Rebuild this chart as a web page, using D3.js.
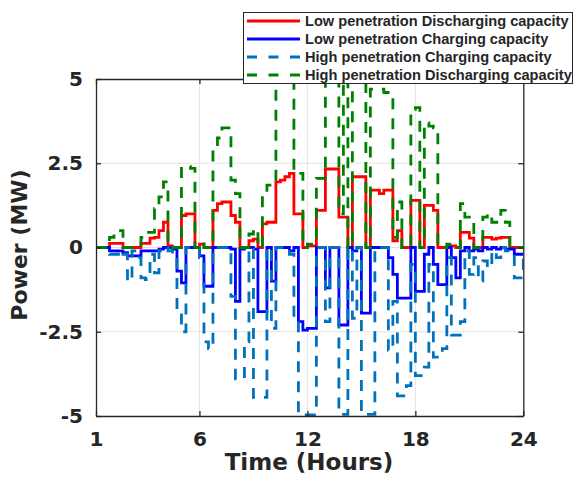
<!DOCTYPE html>
<html>
<head>
<meta charset="utf-8">
<script src="https://cdn.jsdelivr.net/npm/d3@7/dist/d3.min.js"></script>
<style>
  html, body { margin: 0; padding: 0; background: #ffffff; }
  svg { display: block; }
</style>
</head>
<body>
<svg id="chart" width="574" height="477"></svg>
<script>
// ---- data: 96 quarter-hour intervals ----
const intervals = d3.range(1, 97);

const lowDischarging = [
  0, 0, 0, 0.12, 0.12, 0.12, 0, 0, 0, 0,
  0.12, 0.12, 0.28, 0.3, 0.5, 0.75, 0.05, 0, 0, 0.95,
  1.0, 1.0, 0, 0.1, 0, 0, 1.1, 1.3, 1.35, 1.35,
  0.95, 0.75, 0, 0, 0.2, 0.25, 0, 0.7, 0.75, 0.75,
  1.95, 2.0, 2.1, 2.2, 1.0, 1.0, 0, 0.05, 0.05, 1.1,
  1.1, 2.33, 2.33, 2.33, 0.9, 0.9, 0, 2.1, 2.1, 2.1,
  0, 1.7, 1.7, 1.6, 1.7, 1.7, 0.2, 0.5, 0, 0,
  1.4, 1.4, 0, 1.25, 1.25, 1.1, 0, 0, 0.05, 0.05,
  0, 0.45, 0.45, 0.28, 0, 0, 0.3, 0.3, 0.25, 0.28,
  0.3, 0.3, 0, 0, 0, 0
];

const lowCharging = [
  0, 0, 0, -0.1, -0.1, -0.1, -0.15, -0.25, -0.25, -0.25,
  -0.1, -0.1, -0.1, -0.1, -0.05, 0, 0, -0.05, -0.7, -1.05,
  0, 0, 0, -0.25, -1.15, -1.15, 0, 0, 0, 0,
  -0.05, -1.6, -0.05, 0, 0, -0.05, -1.9, -1.9, 0, -1.0,
  0, 0, 0, -0.1, 0, -2.2, -2.45, -2.4, -2.4, 0,
  0, -1.2, 0, 0, -2.3, -2.3, 0, -0.1, 0, -1.95,
  -1.95, 0, 0, 0, 0, -0.3, -0.8, -1.5, -1.5, -1.5,
  0, -1.3, -1.3, -0.2, 0, -0.5, -1.1, -1.1, 0, -0.3,
  -0.9, -0.1, 0, -0.1, -0.05, -0.1, 0, -0.05, 0, -0.05,
  0, -0.05, -0.05, -0.2, -0.2, -0.2
];

const highCharging = [
  0, 0, 0, -0.2, -0.2, -0.1, -0.2, -1.0, -0.1, -0.3,
  -0.9, -0.95, -0.2, -0.75, -0.1, 0, -0.1, -0.3, -1.9, -2.5,
  0, 0, 0, -0.3, -2.8, -3.0, 0, 0, 0, -0.1,
  -1.45, -3.9, -3.9, -2.8, 0, -4.45, -4.45, -4.45, 0, -2.4,
  0, 0, 0, -0.2, -2.15, -4.9, -4.97, -4.97, -4.97, 0,
  0, -2.2, 0, 0, -4.95, -4.95, 0, -2.1, 0, -4.95,
  -4.95, -4.95, 0, 0, 0, -3.05, -1.6, -4.4, -4.4, -4.1,
  -0.5, -3.8, -3.8, -3.55, -0.5, -3.25, -3.25, -3.0, -0.3, -2.6,
  -2.6, -2.2, -0.1, -0.8, -0.3, -1.0, -0.4, -0.6, -0.1, -0.3,
  0, -0.1, -0.2, -0.9, -0.9, -0.2
];

const highDischarging = [
  0, 0, 0, 0.3, 0.4, 0.5, 0, 0, 0, 0,
  0.3, 0.45, 0.45, 1.15, 1.5, 1.95, 0.1, 0, 0, 2.4,
  2.4, 2.35, 0, 0.15, 0, 0, 2.95, 3.25, 3.55, 3.55,
  2.0, 1.6, 0, 0, 0.4, 0.55, 0, 1.6, 1.85, 1.85,
  5.6, 5.6, 5.6, 5.6, 2.2, 2.2, 0, 0.1, 0.1, 2.05,
  2.05, 5.6, 5.6, 5.6, 1.0, 5.6, 0, 5.6, 5.6, 5.6,
  0, 4.7, 4.7, 4.7, 4.6, 4.6, 0.3, 1.35, 0, 0,
  4.1, 4.15, 0, 3.7, 3.6, 3.55, 0, 0, 0.1, 0.1,
  0, 1.3, 0.9, 0.8, 0, 0, 0.9, 1.0, 0.75, 0.75,
  1.1, 0.75, 0, 0, 0, 0
];

const seriesNames = [
  "Low penetration Discharging capacity",
  "Low penetration Charging capacity",
  "High penetration Charging capacity",
  "High penetration Discharging capacity"
];

const xTickValues = [1, 24, 48, 72, 96];
const xTickLabels = ["1", "6", "12", "18", "24"];
const yTickValues = [-5, -2.5, 0, 2.5, 5];
const yTickLabels = ["-5", "-2.5", "0", "2.5", "5"];

// ---- layout ----
const svg = d3.select("#chart");
const L = 96, R = 523.3, T = 79, B = 416;
const x = d3.scaleLinear().domain([1, 96]).range([L, R]);
const y = d3.scaleLinear().domain([-5, 5]).range([B, T]);

const axisColor = "#262626";
const tickFont = "'DejaVu Sans', Verdana, sans-serif";

// grid
const grid = svg.append("g");
xTickValues.slice(1, -1).forEach(v => {
  grid.append("line").attr("x1", x(v)).attr("x2", x(v)).attr("y1", T).attr("y2", B)
    .attr("stroke", "#e3e3e3").attr("stroke-width", 1);
});
yTickValues.slice(1, -1).forEach(v => {
  grid.append("line").attr("x1", L).attr("x2", R).attr("y1", y(v)).attr("y2", y(v))
    .attr("stroke", "#e3e3e3").attr("stroke-width", 1);
});

// data lines
svg.append("clipPath").attr("id", "plotclip")
  .append("rect").attr("x", L).attr("y", T).attr("width", R - L).attr("height", B - T);

const line = d3.line()
  .x((d, i) => x(intervals[i]))
  .y(d => y(d))
  .curve(d3.curveStepAfter);

const seriesData = [lowDischarging, lowCharging, highCharging, highDischarging];
const colors = ["#ff0000", "#0000ff", "#0072bd", "#008000"];
const dashes = [null, null, "11,9", "11,9"];

const plot = svg.append("g").attr("clip-path", "url(#plotclip)");
seriesData.forEach((s, k) => {
  plot.append("path")
    .attr("d", line(s))
    .attr("fill", "none")
    .attr("stroke", colors[k])
    .attr("stroke-width", 2.8)
    .attr("stroke-dasharray", dashes[k])
    .attr("stroke-linejoin", "miter");
});

// axes
function styleAxis(g) {
  g.select(".domain").attr("stroke", axisColor).attr("stroke-width", 1.3);
  g.selectAll(".tick line").attr("stroke", axisColor).attr("stroke-width", 1.3);
  g.selectAll(".tick text")
    .attr("fill", axisColor)
    .attr("font-family", tickFont)
    .attr("font-weight", "bold")
    .attr("font-size", 20);
}

const xAxis = d3.axisBottom(x).tickValues(xTickValues)
  .tickFormat((d, i) => xTickLabels[i]).tickSizeInner(-5).tickSizeOuter(0).tickPadding(16);
svg.append("g").attr("transform", `translate(0,${B})`).call(xAxis).call(styleAxis);

const xAxisTop = d3.axisTop(x).tickValues(xTickValues)
  .tickFormat("").tickSizeInner(-5).tickSizeOuter(0);
svg.append("g").attr("transform", `translate(0,${T})`).call(xAxisTop).call(styleAxis);

const yAxis = d3.axisLeft(y).tickValues(yTickValues)
  .tickFormat((d, i) => yTickLabels[i]).tickSizeInner(-5).tickSizeOuter(0).tickPadding(13);
svg.append("g").attr("transform", `translate(${L},0)`).call(yAxis).call(styleAxis);

const yAxisRight = d3.axisRight(y).tickValues(yTickValues)
  .tickFormat("").tickSizeInner(-5).tickSizeOuter(0);
svg.append("g").attr("transform", `translate(${R},0)`).call(yAxisRight).call(styleAxis);

// axis titles
svg.append("text")
  .attr("x", 309).attr("y", 470)
  .attr("text-anchor", "middle")
  .attr("font-family", tickFont).attr("font-weight", "bold").attr("font-size", 23)
  .attr("fill", axisColor)
  .text("Time (Hours)");

svg.append("text")
  .attr("transform", "translate(27,245) rotate(-90)")
  .attr("text-anchor", "middle")
  .attr("font-family", tickFont).attr("font-weight", "bold").attr("font-size", 22)
  .attr("fill", axisColor)
  .text("Power (MW)");

// legend
const leg = svg.append("g");
leg.append("rect")
  .attr("x", 243.5).attr("y", 12.5).attr("width", 329).attr("height", 71)
  .attr("fill", "#ffffff").attr("stroke", axisColor).attr("stroke-width", 1);
const legRows = [21, 39, 57, 75];
seriesNames.forEach((name, k) => {
  leg.append("line")
    .attr("x1", 247).attr("x2", 300).attr("y1", legRows[k]).attr("y2", legRows[k])
    .attr("stroke", colors[k]).attr("stroke-width", 2.8)
    .attr("stroke-dasharray", dashes[k] ? "10,11.5" : null);
  leg.append("text")
    .attr("x", 305).attr("y", legRows[k]).attr("dy", "0.36em")
    .attr("font-family", "'Liberation Sans', Arial, sans-serif")
    .attr("font-weight", "bold").attr("font-size", 14.6)
    .attr("fill", axisColor)
    .text(name);
});
</script>
</body>
</html>
